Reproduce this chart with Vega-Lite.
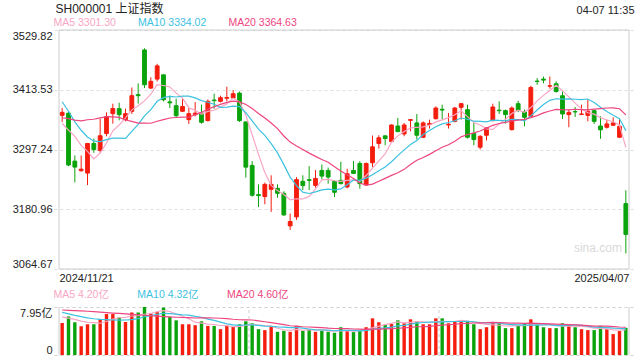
{
  "$schema": "https://vega.github.io/schema/vega-lite/v6.json",
  "width": 580,
  "height": 325,
  "autosize": {"type": "none"},
  "padding": {"left": 54, "top": 30, "right": 6, "bottom": 5},
  "background": "white",
  "config": {
    "view": {"stroke": null},
    "font": "Liberation Sans, Arial, Noto Sans CJK SC",
    "axis": {"labelFont": "Liberation Sans, Noto Sans CJK SC", "titleFont": "Liberation Sans, Noto Sans CJK SC"},
    "legend": {"labelFont": "Liberation Sans, Noto Sans CJK SC"}
  },
  "data": {"values": [
    {"i":0,"d":"2024-11-21","o":3363.7,"h":3378,"l":3351,"c":3369.5,"v":5.30,"ma5":3347.8,"ma10":3390.2,"ma20":3359.0,"vma5":6.30,"vma10":7.05,"vma20":7.45},
    {"i":1,"d":"2024-11-22","o":3368,"h":3372,"l":3265,"c":3267,"v":6.39,"ma5":3335.0,"ma10":3371.7,"ma20":3357.4,"vma5":6.10,"vma10":6.80,"vma20":7.40},
    {"i":2,"d":"2024-11-25","o":3274.6,"h":3285.6,"l":3233.3,"c":3263,"v":5.42,"ma5":3322.8,"ma10":3351.0,"ma20":3354.4,"vma5":5.90,"vma10":6.55,"vma20":7.35},
    {"i":3,"d":"2024-11-26","o":3256,"h":3285.6,"l":3254,"c":3259,"v":4.76,"ma5":3305.4,"ma10":3334.7,"ma20":3353.1,"vma5":5.60,"vma10":6.35,"vma20":7.30},
    {"i":4,"d":"2024-11-27","o":3251.3,"h":3310,"l":3228,"c":3309,"v":5.09,"ma5":3293.6,"ma10":3321.7,"ma20":3355.2,"vma5":5.39,"vma10":6.15,"vma20":7.25},
    {"i":5,"d":"2024-11-28","o":3309,"h":3318.6,"l":3290.8,"c":3297,"v":5.09,"ma5":3279.0,"ma10":3313.4,"ma20":3356.1,"vma5":5.35,"vma10":6.00,"vma20":7.18},
    {"i":6,"d":"2024-11-29","o":3295.3,"h":3357,"l":3291,"c":3324,"v":5.96,"ma5":3290.4,"ma10":3312.7,"ma20":3358.7,"vma5":5.26,"vma10":5.90,"vma20":7.10},
    {"i":7,"d":"2024-12-02","o":3328.3,"h":3369.5,"l":3323,"c":3361,"v":6.78,"ma5":3310.0,"ma10":3316.4,"ma20":3361.2,"vma5":5.54,"vma10":5.85,"vma20":7.02},
    {"i":8,"d":"2024-12-03","o":3367,"h":3386.4,"l":3347.6,"c":3377,"v":6.78,"ma5":3333.6,"ma10":3319.5,"ma20":3360.7,"vma5":5.94,"vma10":5.80,"vma20":6.95},
    {"i":9,"d":"2024-12-04","o":3376.7,"h":3388.3,"l":3354,"c":3365,"v":6.23,"ma5":3344.8,"ma10":3319.2,"ma20":3359.8,"vma5":6.17,"vma10":5.78,"vma20":6.88},
    {"i":10,"d":"2024-12-05","o":3355.4,"h":3376.7,"l":3352,"c":3367,"v":5.47,"ma5":3358.8,"ma10":3318.9,"ma20":3354.6,"vma5":6.24,"vma10":5.80,"vma20":6.80},
    {"i":11,"d":"2024-12-06","o":3371.5,"h":3418,"l":3366.4,"c":3402,"v":7.04,"ma5":3374.4,"ma10":3332.4,"ma20":3352.1,"vma5":6.46,"vma10":5.86,"vma20":6.73},
    {"i":12,"d":"2024-12-09","o":3404,"h":3425.8,"l":3386.4,"c":3402,"v":7.04,"ma5":3382.6,"ma10":3346.3,"ma20":3348.7,"vma5":6.51,"vma10":6.02,"vma20":6.66},
    {"i":13,"d":"2024-12-10","o":3491,"h":3494.3,"l":3416.8,"c":3423.2,"v":7.95,"ma5":3391.8,"ma10":3362.7,"ma20":3348.7,"vma5":6.75,"vma10":6.34,"vma20":6.58},
    {"i":14,"d":"2024-12-11","o":3416.8,"h":3438,"l":3415,"c":3430,"v":6.88,"ma5":3404.8,"ma10":3374.8,"ma20":3348.3,"vma5":6.88,"vma10":6.52,"vma20":6.50},
    {"i":15,"d":"2024-12-12","o":3434.3,"h":3464,"l":3429.6,"c":3460,"v":7.09,"ma5":3423.4,"ma10":3391.1,"ma20":3352.3,"vma5":7.20,"vma10":6.72,"vma20":6.43},
    {"i":16,"d":"2024-12-13","o":3442.6,"h":3443,"l":3390.9,"c":3394,"v":7.86,"ma5":3421.8,"ma10":3398.1,"ma20":3355.4,"vma5":7.36,"vma10":6.91,"vma20":6.36},
    {"i":17,"d":"2024-12-16","o":3390,"h":3402,"l":3378,"c":3388,"v":6.29,"ma5":3419.0,"ma10":3400.8,"ma20":3358.6,"vma5":7.21,"vma10":6.86,"vma20":6.30},
    {"i":18,"d":"2024-12-17","o":3382.5,"h":3396,"l":3358.7,"c":3363,"v":5.74,"ma5":3407.0,"ma10":3399.4,"ma20":3359.5,"vma5":6.77,"vma10":6.76,"vma20":6.25},
    {"i":19,"d":"2024-12-18","o":3371.5,"h":3396,"l":3371,"c":3381,"v":5.09,"ma5":3397.2,"ma10":3401.0,"ma20":3360.1,"vma5":6.41,"vma10":6.65,"vma20":6.21},
    {"i":20,"d":"2024-12-19","o":3355.4,"h":3378,"l":3347,"c":3367,"v":5.09,"ma5":3378.6,"ma10":3401.0,"ma20":3360.0,"vma5":6.01,"vma10":6.61,"vma20":6.20},
    {"i":21,"d":"2024-12-20","o":3365,"h":3389.5,"l":3361.8,"c":3368,"v":4.93,"ma5":3373.4,"ma10":3397.6,"ma20":3365.0,"vma5":5.43,"vma10":6.40,"vma20":6.13},
    {"i":22,"d":"2024-12-23","o":3368.3,"h":3384.5,"l":3347.6,"c":3350.2,"v":5.58,"ma5":3365.8,"ma10":3392.4,"ma20":3369.4,"vma5":5.29,"vma10":6.25,"vma20":6.14},
    {"i":23,"d":"2024-12-24","o":3353.5,"h":3394.7,"l":3352,"c":3391,"v":4.82,"ma5":3371.4,"ma10":3389.2,"ma20":3376.0,"vma5":5.10,"vma10":5.94,"vma20":6.14},
    {"i":24,"d":"2024-12-25","o":3393.5,"h":3405.8,"l":3376.7,"c":3392.3,"v":4.82,"ma5":3373.6,"ma10":3385.4,"ma20":3380.1,"vma5":5.05,"vma10":5.73,"vma20":6.13},
    {"i":25,"d":"2024-12-26","o":3391,"h":3402,"l":3389,"c":3398,"v":4.28,"ma5":3379.8,"ma10":3379.2,"ma20":3385.2,"vma5":4.89,"vma10":5.45,"vma20":6.09},
    {"i":26,"d":"2024-12-27","o":3397,"h":3419.4,"l":3391,"c":3398.5,"v":4.82,"ma5":3386.0,"ma10":3379.7,"ma20":3388.9,"vma5":4.86,"vma10":5.15,"vma20":6.03},
    {"i":27,"d":"2024-12-30","o":3397.5,"h":3413,"l":3396,"c":3405.8,"v":4.66,"ma5":3397.2,"ma10":3381.5,"ma20":3391.2,"vma5":4.68,"vma10":4.98,"vma20":5.92},
    {"i":28,"d":"2024-12-31","o":3407,"h":3410,"l":3350.9,"c":3353.5,"v":5.09,"ma5":3389.8,"ma10":3380.6,"ma20":3390.0,"vma5":4.73,"vma10":4.92,"vma20":5.84},
    {"i":29,"d":"2025-01-02","o":3350.9,"h":3351.5,"l":3242.4,"c":3262.9,"v":5.58,"ma5":3364.0,"ma10":3368.8,"ma20":3384.9,"vma5":4.89,"vma10":4.97,"vma20":5.81},
    {"i":30,"d":"2025-01-03","o":3266.3,"h":3274.6,"l":3205.6,"c":3208.2,"v":5.25,"ma5":3326.0,"ma10":3352.9,"ma20":3377.0,"vma5":5.08,"vma10":4.98,"vma20":5.80},
    {"i":31,"d":"2025-01-06","o":3209.5,"h":3229.4,"l":3185.4,"c":3207.5,"v":4.28,"ma5":3287.8,"ma10":3336.9,"ma20":3367.3,"vma5":4.97,"vma10":4.92,"vma20":5.66},
    {"i":32,"d":"2025-01-07","o":3205.6,"h":3232.7,"l":3190.7,"c":3229.4,"v":4.12,"ma5":3252.4,"ma10":3324.8,"ma20":3358.6,"vma5":4.86,"vma10":4.77,"vma20":5.51},
    {"i":33,"d":"2025-01-08","o":3219.7,"h":3247,"l":3175.8,"c":3229.4,"v":4.66,"ma5":3227.4,"ma10":3308.6,"ma20":3348.9,"vma5":4.78,"vma10":4.76,"vma20":5.35},
    {"i":34,"d":"2025-01-09","o":3221.7,"h":3229.4,"l":3203.6,"c":3212,"v":3.84,"ma5":3217.2,"ma10":3290.6,"ma20":3338.0,"vma5":4.43,"vma10":4.66,"vma20":5.19},
    {"i":35,"d":"2025-01-10","o":3212,"h":3216,"l":3168,"c":3170,"v":4.01,"ma5":3209.6,"ma10":3267.8,"ma20":3323.5,"vma5":4.18,"vma10":4.63,"vma20":5.04},
    {"i":36,"d":"2025-01-13","o":3148.6,"h":3172.6,"l":3140.8,"c":3157.2,"v":3.84,"ma5":3199.4,"ma10":3243.6,"ma20":3311.7,"vma5":4.09,"vma10":4.53,"vma20":4.84},
    {"i":37,"d":"2025-01-14","o":3166.1,"h":3243.6,"l":3160.2,"c":3238.6,"v":4.82,"ma5":3201.4,"ma10":3226.9,"ma20":3304.2,"vma5":4.23,"vma10":4.55,"vma20":4.77},
    {"i":38,"d":"2025-01-15","o":3235.3,"h":3247,"l":3218.3,"c":3227,"v":4.01,"ma5":3201.0,"ma10":3214.2,"ma20":3297.4,"vma5":4.10,"vma10":4.44,"vma20":4.68},
    {"i":39,"d":"2025-01-16","o":3238.5,"h":3264.9,"l":3218.3,"c":3237,"v":4.28,"ma5":3206.0,"ma10":3211.6,"ma20":3290.2,"vma5":4.19,"vma10":4.31,"vma20":4.64},
    {"i":40,"d":"2025-01-17","o":3227.4,"h":3257.2,"l":3223,"c":3240.9,"v":3.84,"ma5":3220.2,"ma10":3214.9,"ma20":3283.9,"vma5":4.16,"vma10":4.17,"vma20":4.58},
    {"i":41,"d":"2025-01-20","o":3256.5,"h":3268,"l":3239,"c":3245.5,"v":4.01,"ma5":3238.0,"ma10":3218.7,"ma20":3277.8,"vma5":4.19,"vma10":4.14,"vma20":4.53},
    {"i":42,"d":"2025-01-21","o":3256.5,"h":3262,"l":3230.8,"c":3243.6,"v":3.84,"ma5":3239.0,"ma10":3220.2,"ma20":3272.5,"vma5":4.00,"vma10":4.12,"vma20":4.44},
    {"i":43,"d":"2025-01-22","o":3235.3,"h":3237,"l":3204.8,"c":3214,"v":3.68,"ma5":3236.4,"ma10":3218.7,"ma20":3263.7,"vma5":3.93,"vma10":4.02,"vma20":4.39},
    {"i":44,"d":"2025-01-23","o":3237.2,"h":3273.4,"l":3229.4,"c":3230.8,"v":4.60,"ma5":3235.2,"ma10":3220.6,"ma20":3255.6,"vma5":3.99,"vma10":4.09,"vma20":4.38},
    {"i":45,"d":"2025-01-24","o":3224.3,"h":3259.8,"l":3221.7,"c":3250.2,"v":3.96,"ma5":3237.0,"ma10":3228.6,"ma20":3248.2,"vma5":4.02,"vma10":4.09,"vma20":4.36},
    {"i":46,"d":"2025-01-27","o":3256.5,"h":3274.6,"l":3250.2,"c":3250.7,"v":3.79,"ma5":3238.0,"ma10":3238.0,"ma20":3240.8,"vma5":3.97,"vma10":4.08,"vma20":4.31},
    {"i":47,"d":"2025-02-05","o":3270.1,"h":3274.6,"l":3221,"c":3230.8,"v":4.07,"ma5":3235.4,"ma10":3237.2,"ma20":3232.1,"vma5":4.02,"vma10":4.01,"vma20":4.28},
    {"i":48,"d":"2025-02-06","o":3228.1,"h":3272,"l":3227,"c":3270.1,"v":4.60,"ma5":3246.6,"ma10":3241.5,"ma20":3227.9,"vma5":4.20,"vma10":4.07,"vma20":4.25},
    {"i":49,"d":"2025-02-07","o":3271.5,"h":3324.4,"l":3262.9,"c":3302.5,"v":6.07,"ma5":3261.0,"ma10":3248.1,"ma20":3229.9,"vma5":4.50,"vma10":4.25,"vma20":4.28},
    {"i":50,"d":"2025-02-10","o":3308.9,"h":3325,"l":3299,"c":3320,"v":5.42,"ma5":3275.0,"ma10":3256.0,"ma20":3235.5,"vma5":4.79,"vma10":4.40,"vma20":4.29},
    {"i":51,"d":"2025-02-11","o":3323.8,"h":3324.5,"l":3305.6,"c":3318.6,"v":4.99,"ma5":3288.6,"ma10":3263.3,"ma20":3241.0,"vma5":5.03,"vma10":4.50,"vma20":4.32},
    {"i":52,"d":"2025-02-12","o":3312.6,"h":3346,"l":3312,"c":3344.9,"v":5.15,"ma5":3311.4,"ma10":3273.4,"ma20":3246.8,"vma5":5.25,"vma10":4.63,"vma20":4.37},
    {"i":53,"d":"2025-02-13","o":3343,"h":3358.7,"l":3332,"c":3332,"v":5.74,"ma5":3323.8,"ma10":3285.2,"ma20":3252.0,"vma5":5.47,"vma10":4.84,"vma20":4.43},
    {"i":54,"d":"2025-02-14","o":3327.5,"h":3349,"l":3323,"c":3345,"v":5.25,"ma5":3332.2,"ma10":3296.6,"ma20":3258.6,"vma5":5.31,"vma10":4.90,"vma20":4.50},
    {"i":55,"d":"2025-02-17","o":3354,"h":3356.5,"l":3332.7,"c":3355.4,"v":5.91,"ma5":3339.2,"ma10":3307.1,"ma20":3267.9,"vma5":5.41,"vma10":5.10,"vma20":4.59},
    {"i":56,"d":"2025-02-18","o":3349,"h":3366.4,"l":3316.6,"c":3325,"v":5.58,"ma5":3340.4,"ma10":3314.5,"ma20":3276.3,"vma5":5.53,"vma10":5.28,"vma20":4.68},
    {"i":57,"d":"2025-02-19","o":3321,"h":3352,"l":3320,"c":3349,"v":5.09,"ma5":3341.2,"ma10":3326.3,"ma20":3281.8,"vma5":5.51,"vma10":5.38,"vma20":4.69},
    {"i":58,"d":"2025-02-20","o":3346,"h":3355.4,"l":3338,"c":3348,"v":5.09,"ma5":3344.4,"ma10":3334.1,"ma20":3287.8,"vma5":5.38,"vma10":5.43,"vma20":4.75},
    {"i":59,"d":"2025-02-21","o":3357.3,"h":3381.2,"l":3355.4,"c":3378,"v":6.07,"ma5":3351.0,"ma10":3341.6,"ma20":3294.9,"vma5":5.55,"vma10":5.43,"vma20":4.84},
    {"i":60,"d":"2025-02-24","o":3375.5,"h":3384.5,"l":3356.7,"c":3374,"v":6.07,"ma5":3354.8,"ma10":3347.0,"ma20":3301.5,"vma5":5.58,"vma10":5.49,"vma20":4.95},
    {"i":61,"d":"2025-02-25","o":3345,"h":3368.4,"l":3338,"c":3346.5,"v":5.25,"ma5":3359.2,"ma10":3349.8,"ma20":3306.6,"vma5":5.51,"vma10":5.52,"vma20":5.01},
    {"i":62,"d":"2025-02-26","o":3352,"h":3380,"l":3350,"c":3378,"v":5.47,"ma5":3365.0,"ma10":3353.1,"ma20":3313.3,"vma5":5.59,"vma10":5.55,"vma20":5.09},
    {"i":63,"d":"2025-02-27","o":3379.3,"h":3388,"l":3355.4,"c":3386.4,"v":5.74,"ma5":3372.6,"ma10":3358.5,"ma20":3321.9,"vma5":5.72,"vma10":5.55,"vma20":5.20},
    {"i":64,"d":"2025-02-28","o":3374.8,"h":3384.5,"l":3318.6,"c":3321.1,"v":5.63,"ma5":3361.2,"ma10":3356.1,"ma20":3326.4,"vma5":5.63,"vma10":5.59,"vma20":5.25},
    {"i":65,"d":"2025-03-03","o":3328.3,"h":3349,"l":3305.6,"c":3316.6,"v":5.09,"ma5":3349.8,"ma10":3352.3,"ma20":3329.7,"vma5":5.44,"vma10":5.51,"vma20":5.30},
    {"i":66,"d":"2025-03-04","o":3301.7,"h":3325,"l":3297.3,"c":3323,"v":4.28,"ma5":3345.0,"ma10":3352.1,"ma20":3333.3,"vma5":5.24,"vma10":5.38,"vma20":5.33},
    {"i":67,"d":"2025-03-05","o":3325,"h":3341,"l":3314.7,"c":3340,"v":4.60,"ma5":3337.4,"ma10":3351.2,"ma20":3338.8,"vma5":5.07,"vma10":5.33,"vma20":5.35},
    {"i":68,"d":"2025-03-06","o":3353.5,"h":3386.4,"l":3352,"c":3380,"v":5.42,"ma5":3336.2,"ma10":3354.4,"ma20":3344.3,"vma5":5.00,"vma10":5.36,"vma20":5.40},
    {"i":69,"d":"2025-03-07","o":3373.8,"h":3391,"l":3366.4,"c":3372.8,"v":5.25,"ma5":3346.6,"ma10":3353.9,"ma20":3347.8,"vma5":4.93,"vma10":5.28,"vma20":5.35},
    {"i":70,"d":"2025-03-10","o":3372.8,"h":3375,"l":3347.6,"c":3365.1,"v":4.45,"ma5":3356.2,"ma10":3353.0,"ma20":3350.0,"vma5":4.80,"vma10":5.12,"vma20":5.31},
    {"i":71,"d":"2025-03-11","o":3336,"h":3381,"l":3334,"c":3378,"v":4.45,"ma5":3367.2,"ma10":3356.1,"ma20":3353.0,"vma5":4.83,"vma10":5.04,"vma20":5.28},
    {"i":72,"d":"2025-03-12","o":3386.4,"h":3392,"l":3370,"c":3373,"v":4.93,"ma5":3373.8,"ma10":3355.6,"ma20":3354.4,"vma5":4.90,"vma10":4.98,"vma20":5.27},
    {"i":73,"d":"2025-03-13","o":3370.4,"h":3375,"l":3342.4,"c":3359.9,"v":5.25,"ma5":3369.8,"ma10":3353.0,"ma20":3355.8,"vma5":4.87,"vma10":4.94,"vma20":5.24},
    {"i":74,"d":"2025-03-14","o":3361.8,"h":3421.3,"l":3360,"c":3418,"v":5.91,"ma5":3378.8,"ma10":3362.7,"ma20":3359.4,"vma5":5.00,"vma10":4.96,"vma20":5.28},
    {"i":75,"d":"2025-03-17","o":3430.5,"h":3436.2,"l":3423.2,"c":3429.6,"v":5.09,"ma5":3391.8,"ma10":3374.0,"ma20":3363.2,"vma5":5.13,"vma10":4.96,"vma20":5.24},
    {"i":76,"d":"2025-03-18","o":3434.3,"h":3439,"l":3426,"c":3432.3,"v":4.60,"ma5":3402.6,"ma10":3384.9,"ma20":3368.5,"vma5":5.16,"vma10":5.00,"vma20":5.19},
    {"i":77,"d":"2025-03-19","o":3420.5,"h":3439.3,"l":3415.5,"c":3421.3,"v":4.45,"ma5":3412.2,"ma10":3393.0,"ma20":3372.1,"vma5":5.06,"vma10":4.98,"vma20":5.15},
    {"i":78,"d":"2025-03-20","o":3425.2,"h":3430,"l":3408,"c":3410.2,"v":4.45,"ma5":3422.2,"ma10":3396.0,"ma20":3375.2,"vma5":4.90,"vma10":4.88,"vma20":5.12},
    {"i":79,"d":"2025-03-21","o":3401.9,"h":3410,"l":3356.7,"c":3366.4,"v":5.25,"ma5":3411.8,"ma10":3395.3,"ma20":3374.6,"vma5":4.77,"vma10":4.88,"vma20":5.08},
    {"i":80,"d":"2025-03-24","o":3365.1,"h":3375,"l":3340.5,"c":3369.5,"v":5.09,"ma5":3399.8,"ma10":3395.8,"ma20":3374.4,"vma5":4.77,"vma10":4.95,"vma20":5.03},
    {"i":81,"d":"2025-03-25","o":3371,"h":3380,"l":3360.6,"c":3370.4,"v":4.60,"ma5":3387.4,"ma10":3395.0,"ma20":3375.6,"vma5":4.77,"vma10":4.96,"vma20":5.00},
    {"i":82,"d":"2025-03-26","o":3365.5,"h":3384.5,"l":3365,"c":3366.4,"v":4.28,"ma5":3376.4,"ma10":3394.3,"ma20":3375.0,"vma5":4.73,"vma10":4.90,"vma20":4.94},
    {"i":83,"d":"2025-03-27","o":3363.7,"h":3394.1,"l":3352,"c":3371.5,"v":4.12,"ma5":3368.8,"ma10":3395.5,"ma20":3374.3,"vma5":4.67,"vma10":4.78,"vma20":4.86},
    {"i":84,"d":"2025-03-28","o":3372.8,"h":3374.5,"l":3347,"c":3352,"v":4.12,"ma5":3366.0,"ma10":3388.9,"ma20":3375.8,"vma5":4.44,"vma10":4.61,"vma20":4.78},
    {"i":85,"d":"2025-03-31","o":3343,"h":3361.8,"l":3318,"c":3335.5,"v":4.82,"ma5":3359.2,"ma10":3379.5,"ma20":3376.8,"vma5":4.39,"vma10":4.58,"vma20":4.77},
    {"i":86,"d":"2025-04-01","o":3340.5,"h":3355.4,"l":3338,"c":3347,"v":4.28,"ma5":3354.6,"ma10":3371.0,"ma20":3378.0,"vma5":4.32,"vma10":4.55,"vma20":4.77},
    {"i":87,"d":"2025-04-02","o":3344.4,"h":3359.9,"l":3343,"c":3349,"v":3.46,"ma5":3351.2,"ma10":3363.8,"ma20":3378.4,"vma5":4.16,"vma10":4.45,"vma20":4.71},
    {"i":88,"d":"2025-04-03","o":3321.1,"h":3356.7,"l":3320,"c":3342.4,"v":3.96,"ma5":3345.2,"ma10":3357.0,"ma20":3376.5,"vma5":4.13,"vma10":4.40,"vma20":4.64},
    {"i":89,"d":"2025-04-07","o":3192,"h":3217.8,"l":3095.1,"c":3132,"v":4.50,"ma5":3301.3,"ma10":3334.0,"ma20":3364.6,"vma5":4.20,"vma10":4.32,"vma20":4.60}
  ]},
  "layer": [
    {
      "layer": [
        {
          "mark": {"type": "rule", "strokeWidth": 1},
          "encoding": {
            "x": {"field": "i", "type": "quantitative",
              "scale": {"domain": [-0.5, 89.5], "nice": false, "zero": false},
              "axis": {"orient": "bottom", "offset": -86, "values": [-0.5, 89.5], "labelExpr": "datum.value < 0 ? '2024/11/21' : '2025/04/07'", "labelAlign": {"condition": {"test": "datum.value < 0", "value": "left"}, "value": "right"}, "labelFlush": false, "labelOverlap": false, "labelBound": false, "ticks": false, "domain": false, "grid": false, "labelPadding": 3, "labelFontSize": 11, "labelColor": "#222", "title": null}},
            "y": {"field": "l", "type": "quantitative",
              "scale": {"domain": [3064.67, 3529.82], "range": [239, 0], "nice": false, "zero": false},
              "axis": {"orient": "left", "values": [3064.67, 3180.96, 3297.24, 3413.53, 3529.82], "format": ".2f", "labelFlush": true, "ticks": false, "domain": false, "labelPadding": 2, "labelFontSize": 11, "labelColor": "#222", "grid": true, "gridColor": "#dedede", "gridDash": [3, 3],
                "title": "SH000001 上证指数", "titleAngle": 0, "titleX": 1, "titleY": -22, "titleAlign": "left", "titleBaseline": "middle", "titleFontSize": 12, "titleFontWeight": "normal", "titleColor": "#222"}},
            "y2": {"field": "h"},
            "color": {"condition": {"test": "datum.c >= datum.o", "value": "#f41d0e"}, "value": "#0aa30c"}
          }
        },
        {
          "mark": {"type": "bar", "width": 3.8, "strokeWidth": 1},
          "encoding": {
            "x": {"field": "i", "type": "quantitative"},
            "y": {"field": "o", "type": "quantitative"},
            "y2": {"field": "c"},
            "color": {"condition": {"test": "datum.c >= datum.o", "value": "#f41d0e"}, "value": "#0aa30c"},
            "stroke": {"condition": {"test": "datum.c >= datum.o", "value": "#f41d0e"}, "value": "#0aa30c"}
          }
        },
        {
          "transform": [{"fold": ["ma5", "ma10", "ma20"], "as": ["k", "val"]}],
          "mark": {"type": "line", "strokeWidth": 1.2},
          "encoding": {
            "x": {"field": "i", "type": "quantitative"},
            "y": {"field": "val", "type": "quantitative"},
            "color": {"field": "k", "type": "nominal",
              "scale": {"domain": ["ma5", "ma10", "ma20"], "range": ["#f8a6c4", "#3cc2e0", "#ee4580"]},
              "legend": {"orient": "none", "legendX": -11, "legendY": -12, "direction": "horizontal", "columns": 3, "columnPadding": 11.5, "title": null, "symbolSize": 1, "symbolOpacity": 0, "symbolStrokeWidth": 0, "labelOffset": 0, "padding": 0, "labelFontSize": 10.5,
                "labelExpr": "datum.value == 'ma5' ? 'MA5 3301.30' : datum.value == 'ma10' ? 'MA10 3334.02' : 'MA20 3364.63'",
                "encode": {"labels": {"update": {"fill": {"signal": "datum.value == 'ma5' ? '#f8a6c4' : datum.value == 'ma10' ? '#3cc2e0' : '#ee4580'"}}}}}},
            "detail": {"field": "k"}
          }
        },
        {
          "data": {"values": [{}]},
          "mark": {"type": "rect", "fill": null, "fillOpacity": 0, "stroke": "#cccccc", "strokeWidth": 1},
          "encoding": {
            "x": {"datum": -0.5, "type": "quantitative"},
            "x2": {"datum": 89.5},
            "y": {"datum": 3064.67, "type": "quantitative"},
            "y2": {"datum": 3529.82}
          }
        },
        {
          "data": {"values": [{}]},
          "mark": {"type": "text", "text": "sina.com", "fontSize": 12, "color": "#d9d9d9"},
          "encoding": {
            "x": {"datum": 84.6, "type": "quantitative"},
            "y": {"datum": 3105, "type": "quantitative"}
          }
        }
      ]
    },
    {
      "layer": [
        {
          "data": {"values": [{}]},
          "mark": {"type": "rule", "stroke": "#cccccc", "strokeDash": [3, 3], "strokeWidth": 1},
          "encoding": {
            "x": {"datum": 29.5, "type": "quantitative"},
            "y": {"datum": 0, "type": "quantitative",
              "scale": {"domain": [0, 7.95], "range": [325, 277], "nice": false, "zero": true},
              "axis": {"orient": "left", "values": [0, 7.95], "labelExpr": "datum.value == 0 ? '0' : '7.95亿'", "labelFlush": true, "ticks": false, "domain": false, "labelPadding": 2, "labelFontSize": 11, "labelColor": "#222", "grid": true, "gridColor": "#cfcfcf", "gridDash": [3, 3],
                "title": "04-07 11:35", "titleAngle": 0, "titleX": 580, "titleY": -20, "titleAlign": "right", "titleBaseline": "middle", "titleFontSize": 11, "titleFontWeight": "normal", "titleColor": "#222"}},
            "y2": {"datum": 7.95}
          }
        },
        {
          "data": {"values": [{}]},
          "mark": {"type": "rule", "stroke": "#cccccc", "strokeDash": [3, 3], "strokeWidth": 1},
          "encoding": {
            "x": {"datum": 59.5, "type": "quantitative"},
            "y": {"datum": 0, "type": "quantitative"},
            "y2": {"datum": 7.95}
          }
        },
        {
          "data": {"values": [{}]},
          "mark": {"type": "rule", "stroke": "#cccccc", "strokeWidth": 1},
          "encoding": {
            "x": {"datum": -0.5, "type": "quantitative"},
            "y": {"datum": 0, "type": "quantitative"},
            "y2": {"datum": 7.95}
          }
        },
        {
          "data": {"values": [{}]},
          "mark": {"type": "rule", "stroke": "#cccccc", "strokeWidth": 1},
          "encoding": {
            "x": {"datum": 89.5, "type": "quantitative"},
            "y": {"datum": 0, "type": "quantitative"},
            "y2": {"datum": 7.95}
          }
        },
        {
          "mark": {"type": "bar", "width": 3.4},
          "encoding": {
            "x": {"field": "i", "type": "quantitative"},
            "y": {"field": "v", "type": "quantitative"},
            "color": {"condition": {"test": "datum.c >= datum.o", "value": "#f41d0e"}, "value": "#0aa30c"}
          }
        },
        {
          "transform": [{"fold": ["vma5", "vma10", "vma20"], "as": ["k", "val"]}],
          "mark": {"type": "line", "strokeWidth": 1.2},
          "encoding": {
            "x": {"field": "i", "type": "quantitative"},
            "y": {"field": "val", "type": "quantitative"},
            "color": {"field": "k", "type": "nominal",
              "scale": {"domain": ["vma5", "vma10", "vma20"], "range": ["#f8a6c4", "#3cc2e0", "#ee4580"]},
              "legend": {"orient": "none", "legendX": -11, "legendY": 260, "direction": "horizontal", "columns": 3, "columnPadding": 17.8, "title": null, "symbolSize": 1, "symbolOpacity": 0, "symbolStrokeWidth": 0, "labelOffset": 0, "padding": 0, "labelFontSize": 10.5,
                "labelExpr": "datum.value == 'vma5' ? 'MA5 4.20亿\u00a0\u00a0\u00a0' : datum.value == 'vma10' ? 'MA10 4.32亿' : 'MA20 4.60亿'",
                "encode": {"labels": {"update": {"fill": {"signal": "datum.value == 'vma5' ? '#f8a6c4' : datum.value == 'vma10' ? '#3cc2e0' : '#ee4580'"}}}}}},
            "detail": {"field": "k"}
          }
        }
      ]
    }
  ],
  "resolve": {"scale": {"y": "independent", "color": "independent"}, "axis": {"y": "independent"}, "legend": {"color": "independent"}}
}
